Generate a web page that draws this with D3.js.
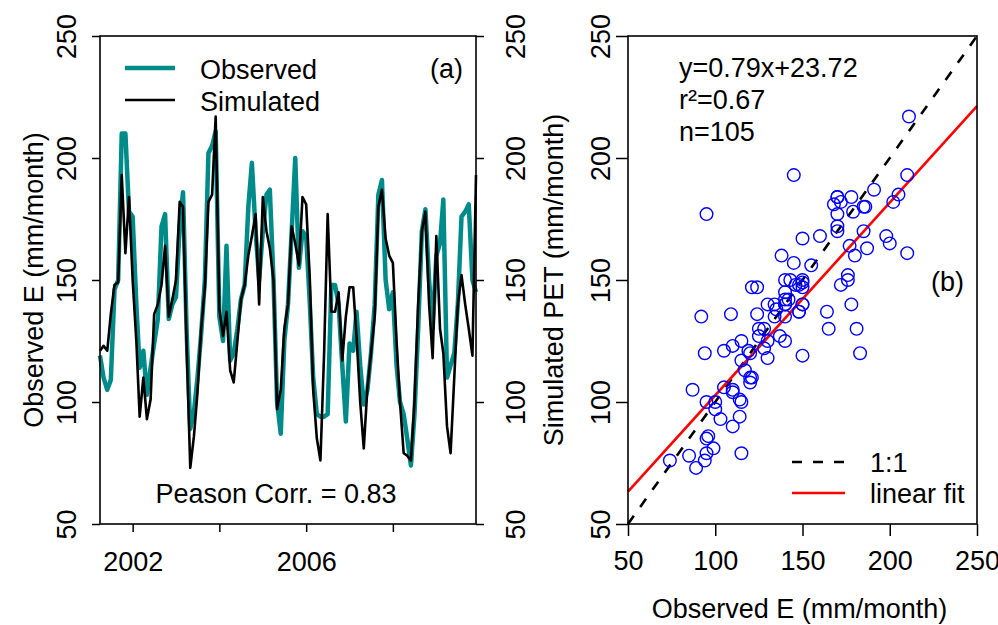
<!DOCTYPE html>
<html>
<head>
<meta charset="utf-8">
<script src="https://cdn.jsdelivr.net/npm/d3@7"></script>
<style>
  body { margin: 0; background: #fff; }
  text { font-family: "Liberation Sans", Arial, Helvetica, sans-serif; fill: #000; }
</style>
</head>
<body>
<svg id="chart" width="998" height="625"></svg>
<script>
// monthly series, Apr 2001 .. Dec 2009 (105 months)
const observed = [
  119,110,105,109,146,150,210,210,178,176,
  140,114,121,103,114,124,134,172,177,134,
  140,143,172,186,128, 89, 96,110,128,150,
  202,205,211,135,125,164,117,120,130,142,
  148,180,198,170,150,170,185,187,150,100,
   87,125,140,170,200,155,170,168,140,110,
   95, 94, 94, 95,148,148,140,115, 92,124,
  121,137,115, 99,105,120,140,185,191,150,
  138,145,115,100, 95, 85, 74, 95,130,170,
  179,150,130,160,165,183,110,115,120,140,
  176,178,181,150,145
];
const simulated = [
  121,123,121,136,148,149,193,161,184,150,
  125, 94,110, 93,101,136,140,148,164,135,
  142,150,182,180,122, 73, 86,104,130,147,
  182,185,217,138,127,137,113,108,125,142,
  148,160,168,177,140,184,170,163,150, 97,
  105,130,140,172,165,156,184,181,150,105,
   85, 76,120,177,137,137,145,117,135,147,
  147,127,100, 81,106,120,135,180,187,167,
  160,157,125,100, 79, 78, 76,100,140,170,
  178,140,118,168,130,120, 90, 79,110,140,
  152,140,130,119,193
];
const startMonth = new Date(2001, 3, 1);
const endMonth = new Date(2010, 0, 1);

const valueTicks = [50, 100, 150, 200, 250];
const yearTicks = [2002, 2004, 2006, 2008];
const yearLabels = ["2002", "", "2006", ""];
const seriesNames = ["Observed", "Simulated"];
const seriesColors = ["#008b8b", "#000000"];
const corrText = "Peason Corr. = 0.83";

const fitSlope = 0.79, fitIntercept = 23.72;
const statLines = ["y=0.79x+23.72", "r\u00b2=0.67", "n=105"];
const refLines = ["1:1", "linear fit"];

const months = d3.timeMonth.range(startMonth, endMonth);

const svg = d3.select("#chart");
const fs = 27;

// ---------- panel (a): time series ----------
const A = {left: 100, right: 476, top: 36, bottom: 524};

const xTime = d3.scaleTime()
  .domain([months[0], months[months.length - 1]])
  .range([A.left, A.right]);
const yA = d3.scaleLinear().domain([50, 250]).range([A.bottom, A.top]);

const line = d3.line().x((d, i) => xTime(months[i])).y(d => yA(d));

svg.append("path").datum(observed)
  .attr("d", line).attr("fill", "none")
  .attr("stroke", seriesColors[0]).attr("stroke-width", 4.5)
  .attr("stroke-linejoin", "round");
svg.append("path").datum(simulated)
  .attr("d", line).attr("fill", "none")
  .attr("stroke", seriesColors[1]).attr("stroke-width", 2.6)
  .attr("stroke-linejoin", "round");

function styleAxis(g) {
  g.select(".domain").remove();
  g.selectAll("line").attr("stroke", "#000").attr("stroke-width", 1.5);
  g.selectAll("text").style("font-size", fs + "px");
}

// rotated y labels
function rotLabels(g, dx) {
  g.selectAll("text")
    .attr("x", null).attr("dy", null)
    .attr("text-anchor", "middle")
    .attr("transform", `translate(${dx},0) rotate(-90)`);
}

svg.append("g").attr("transform", `translate(${A.left},0)`)
  .call(d3.axisLeft(yA).tickValues(valueTicks).tickSize(8).tickFormat(d3.format("d")))
  .call(styleAxis).call(g => rotLabels(g, -24));

svg.append("g").attr("transform", `translate(${A.right},0)`)
  .call(d3.axisRight(yA).tickValues(valueTicks).tickSize(8).tickFormat(d3.format("d")))
  .call(styleAxis).call(g => rotLabels(g, 49));

svg.append("g").attr("transform", `translate(0,${A.bottom})`)
  .call(d3.axisBottom(xTime)
    .tickValues(yearTicks.map(y => new Date(y, 0, 1)))
    .tickSize(8)
    .tickFormat((d, i) => yearLabels[i]))
  .call(styleAxis)
  .call(g => g.selectAll("text").attr("y", 47).attr("dy", null));

svg.append("rect")
  .attr("x", A.left).attr("y", A.top)
  .attr("width", A.right - A.left).attr("height", A.bottom - A.top)
  .attr("fill", "none").attr("stroke", "#000").attr("stroke-width", 1.6);

svg.append("text")
  .attr("transform", `translate(43,${(A.top + A.bottom) / 2}) rotate(-90)`)
  .attr("text-anchor", "middle").style("font-size", fs + "px")
  .text("Observed E (mm/month)");

// legend
seriesNames.forEach((name, i) => {
  const y = 68 + i * 32;
  svg.append("line").attr("x1", 125).attr("x2", 175).attr("y1", y).attr("y2", y)
    .attr("stroke", seriesColors[i]).attr("stroke-width", i === 0 ? 4.5 : 2.6);
  svg.append("text").attr("x", 200).attr("y", y + 10.5)
    .style("font-size", fs + "px").text(name);
});

svg.append("text").attr("x", 463).attr("y", 78).attr("text-anchor", "end")
  .style("font-size", fs + "px").text("(a)");

svg.append("text").attr("x", (A.left + A.right) / 2 - 12).attr("y", 503)
  .attr("text-anchor", "middle").style("font-size", fs + "px").text(corrText);

// ---------- panel (b): scatter ----------
const B = {left: 628, right: 977, top: 36, bottom: 524};
const xB = d3.scaleLinear().domain([50, 250]).range([B.left, B.right]);
const yB = d3.scaleLinear().domain([50, 250]).range([B.bottom, B.top]);

svg.append("line")
  .attr("x1", xB(50)).attr("y1", yB(50)).attr("x2", xB(250)).attr("y2", yB(250))
  .attr("stroke", "#000").attr("stroke-width", 2.6).attr("stroke-dasharray", "10,11");

svg.append("line")
  .attr("x1", xB(50)).attr("y1", yB(fitSlope * 50 + fitIntercept))
  .attr("x2", xB(250)).attr("y2", yB(fitSlope * 250 + fitIntercept))
  .attr("stroke", "#ff0000").attr("stroke-width", 2.6);

svg.append("g").selectAll("circle")
  .data(observed.map((o, i) => [o, simulated[i]]))
  .join("circle")
  .attr("cx", d => xB(d[0])).attr("cy", d => yB(d[1]))
  .attr("r", 6.3).attr("fill", "none")
  .attr("stroke", "#0000ff").attr("stroke-width", 1.4);

svg.append("g").attr("transform", `translate(${B.left},0)`)
  .call(d3.axisLeft(yB).tickValues(valueTicks).tickSize(12).tickFormat(d3.format("d")))
  .call(styleAxis).call(g => rotLabels(g, -18));

svg.append("g").attr("transform", `translate(0,${B.bottom})`)
  .call(d3.axisBottom(xB).tickValues(valueTicks).tickSize(12).tickFormat(d3.format("d")))
  .call(styleAxis)
  .call(g => g.selectAll("text").attr("y", 46).attr("dy", null));

svg.append("rect")
  .attr("x", B.left).attr("y", B.top)
  .attr("width", B.right - B.left).attr("height", B.bottom - B.top)
  .attr("fill", "none").attr("stroke", "#000").attr("stroke-width", 1.6);

svg.append("text")
  .attr("transform", `translate(563,${(B.top + B.bottom) / 2}) rotate(-90)`)
  .attr("text-anchor", "middle").style("font-size", fs + "px")
  .text("Simulated PET (mm/month)");

svg.append("text")
  .attr("x", (B.left + B.right) / 2 - 3).attr("y", 618)
  .attr("text-anchor", "middle").style("font-size", fs + "px")
  .text("Observed E (mm/month)");

statLines.forEach((t, i) => {
  svg.append("text").attr("x", 679).attr("y", 77 + i * 32)
    .style("font-size", fs + "px").text(t);
});

svg.append("text").attr("x", 964).attr("y", 291).attr("text-anchor", "end")
  .style("font-size", fs + "px").text("(b)");

// legend (b)
svg.append("line").attr("x1", 792).attr("x2", 845).attr("y1", 462).attr("y2", 462)
  .attr("stroke", "#000").attr("stroke-width", 2.6).attr("stroke-dasharray", "10,11");
svg.append("line").attr("x1", 792).attr("x2", 845).attr("y1", 493).attr("y2", 493)
  .attr("stroke", "#ff0000").attr("stroke-width", 2.6);
refLines.forEach((t, i) => {
  svg.append("text").attr("x", 870).attr("y", 472 + i * 31)
    .style("font-size", fs + "px").text(t);
});
</script>
</body>
</html>
